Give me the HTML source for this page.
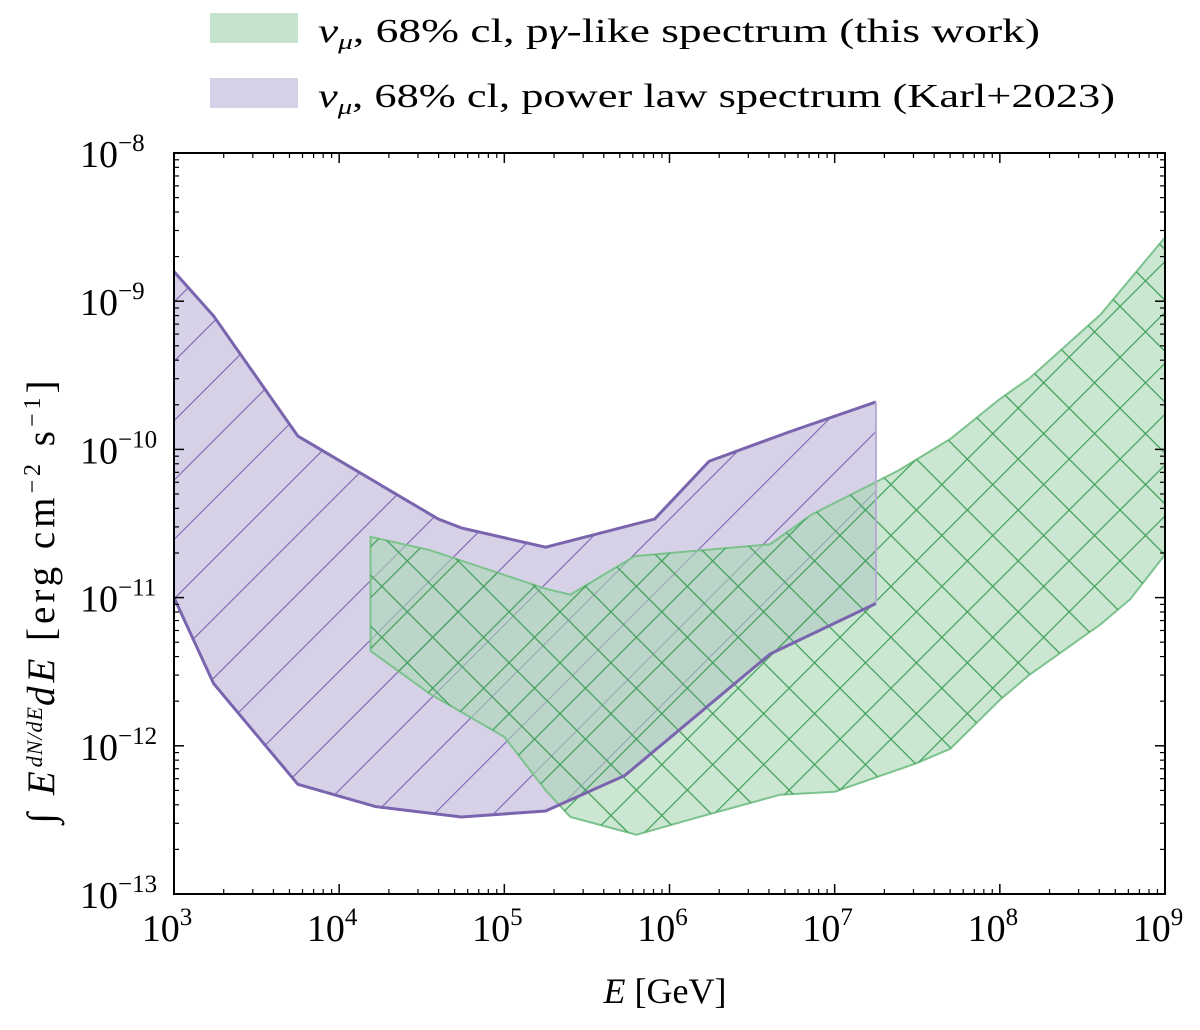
<!DOCTYPE html>
<html><head><meta charset="utf-8"><style>
body{margin:0;background:#fff}
svg text{font-family:"Liberation Serif",serif;fill:#000}
</style></head><body>
<svg id="chart" width="1200" height="1025" viewBox="0 0 1200 1025" xmlns="http://www.w3.org/2000/svg">
<defs>
<clipPath id="plotclip"><rect x="174" y="153" width="991" height="741"/></clipPath>
<pattern id="hatchP" patternUnits="userSpaceOnUse" width="42" height="42" patternTransform="rotate(45 0 0)">
<line x1="0" y1="0" x2="0" y2="42" stroke="#7a64ae" stroke-width="2.2"/>
</pattern>
<pattern id="hatchG" patternUnits="userSpaceOnUse" width="36" height="36" patternTransform="rotate(45 0 0)">
<line x1="0" y1="0" x2="0" y2="36" stroke="#3f9f5a" stroke-width="2.4"/>
<line x1="0" y1="0" x2="36" y2="0" stroke="#3f9f5a" stroke-width="2.4"/>
</pattern>
</defs>
<g id="plot" clip-path="url(#plotclip)"></g>
<g id="axes"></g>
<g>
<rect x="210" y="13" width="88" height="30" fill="#c5e3cc"/>
<text x="318" y="42" font-size="34" textLength="722" lengthAdjust="spacingAndGlyphs"><tspan font-style="italic">ν</tspan><tspan font-style="italic" font-size="22" dy="7">μ</tspan><tspan dy="-7">, 68% cl, p</tspan><tspan font-style="italic">γ</tspan>-like spectrum (this work)</text>
<rect x="210" y="78" width="88" height="30" fill="#d7d1e8"/>
<text x="318" y="107" font-size="34" textLength="797" lengthAdjust="spacingAndGlyphs"><tspan font-style="italic">ν</tspan><tspan font-style="italic" font-size="22" dy="7">μ</tspan><tspan dy="-7">, 68% cl, power law spectrum (Karl+2023)</tspan></text>
</g>
<text x="665" y="1003" font-size="36" text-anchor="middle"><tspan font-style="italic">E</tspan> [GeV]</text>
<text transform="translate(54 600) rotate(-90)" font-size="39" text-anchor="middle" letter-spacing="4">∫ <tspan font-style="italic">E</tspan><tspan font-style="italic" font-size="22" dy="-12" letter-spacing="1">dN/dE</tspan><tspan font-style="italic" dy="12">dE</tspan> [erg cm<tspan font-size="24" dy="-14">−2</tspan><tspan dy="14"> s</tspan><tspan font-size="24" dy="-14">−1</tspan><tspan dy="14">]</tspan></text>
</svg>
<script>
const purpleUpperE=[3.0,3.24,3.75,4.60,4.74,5.25,5.91,6.24,6.73,7.25];
const purpleUpperF=[-8.80,-9.10,-9.91,-10.47,-10.53,-10.66,-10.47,-10.08,-9.88,-9.68];
const purpleLowerE=[7.25,6.61,5.73,5.25,4.74,4.22,3.75,3.24,3.0];
const purpleLowerF=[-11.04,-11.38,-12.20,-12.44,-12.48,-12.41,-12.26,-11.58,-11.0];
const greenUpperE=[4.19,4.55,5.25,5.40,5.79,6.61,6.86,7.25,7.39,7.70,8.0,8.18,8.61,9.0];
const greenUpperF=[-10.59,-10.68,-10.94,-10.98,-10.72,-10.64,-10.44,-10.22,-10.14,-9.93,-9.66,-9.52,-9.09,-8.57];
const greenLowerE=[9.0,8.79,8.61,8.18,8.0,7.70,7.49,7.0,6.67,6.18,5.80,5.40,5.25,5.0,4.55,4.19];
const greenLowerF=[-10.71,-11.01,-11.18,-11.52,-11.69,-12.02,-12.12,-12.31,-12.33,-12.48,-12.60,-12.48,-12.30,-11.94,-11.65,-11.36];
const xTicks=[3,4,5,6,7,8,9];
const yTicks=[-13,-12,-11,-10,-9,-8];

const X0=174,X1=1165,Y0=894,Y1=153;
const xs=v=>X0+(v-3)/6*(X1-X0);
const ys=v=>Y0-(v+13)/5*(Y0-Y1);
const NS="http://www.w3.org/2000/svg";
const plot=document.getElementById('plot'),axes=document.getElementById('axes');
function mk(tag,attrs,parent){const e=document.createElementNS(NS,tag);for(const k in attrs)e.setAttribute(k,attrs[k]);parent.appendChild(e);return e;}
function pts(E1,F1,E2,F2){const p=[];E1.forEach((e,i)=>p.push(xs(e)+','+ys(F1[i])));E2.forEach((e,i)=>p.push(xs(e)+','+ys(F2[i])));return p.join(' ');}

const pp=pts(purpleUpperE,purpleUpperF,purpleLowerE,purpleLowerF);
let e=mk('polygon',{points:pp,fill:'#d7d1e8',stroke:'none'},plot);


e=mk('polygon',{points:pp,fill:'url(#hatchP)',stroke:'none'},plot);


const gp=pts(greenUpperE,greenUpperF,greenLowerE,greenLowerF);
e=mk('polygon',{points:gp,fill:'#a8d7b2','fill-opacity':0.6,stroke:'#7cc28d','stroke-width':2},plot);


e=mk('polygon',{points:gp,fill:'url(#hatchG)',stroke:'none'},plot);


e=mk('polyline',{points:purpleUpperE.map((v,i)=>xs(v)+','+ys(purpleUpperF[i])).join(' '),fill:'none',stroke:'#7a64ae','stroke-width':3},plot);


e=mk('polyline',{points:purpleLowerE.map((v,i)=>xs(v)+','+ys(purpleLowerF[i])).join(' '),fill:'none',stroke:'#7a64ae','stroke-width':3},plot);


e=mk('line',{x1:xs(purpleUpperE[purpleUpperE.length-1]),y1:ys(purpleUpperF[purpleUpperF.length-1]),x2:xs(purpleLowerE[0]),y2:ys(purpleLowerF[0]),stroke:'#b8acd6','stroke-width':2},plot);



e=mk('rect',{x:X0,y:Y1,width:X1-X0,height:Y0-Y1,fill:'none',stroke:'#000','stroke-width':2},axes);


xTicks.forEach(t=>{
  const x=xs(t);
  mk('line',{x1:x,y1:Y0,x2:x,y2:Y0-10,stroke:'#000','stroke-width':1.5},axes);
  mk('line',{x1:x,y1:Y1,x2:x,y2:Y1+10,stroke:'#000','stroke-width':1.5},axes);
  if(t<9)for(let m=2;m<10;m++){const xm=xs(t+Math.log10(m));mk('line',{x1:xm,y1:Y0,x2:xm,y2:Y0-5,stroke:'#000','stroke-width':1.2},axes);mk('line',{x1:xm,y1:Y1,x2:xm,y2:Y1+5,stroke:'#000','stroke-width':1.2},axes);}
  const tx=mk('text',{x:x-7,y:Y0+47,'font-size':38,'text-anchor':'middle'},axes);
  
  
  tx.innerHTML='10<tspan font-size="25" dy="-16">'+t+'</tspan>';
});
yTicks.forEach(t=>{
  const y=ys(t);
  mk('line',{x1:X0,y1:y,x2:X0+10,y2:y,stroke:'#000','stroke-width':1.5},axes);
  mk('line',{x1:X1,y1:y,x2:X1-10,y2:y,stroke:'#000','stroke-width':1.5},axes);
  if(t<-8)for(let m=2;m<10;m++){const ym=ys(t+Math.log10(m));mk('line',{x1:X0,y1:ym,x2:X0+5,y2:ym,stroke:'#000','stroke-width':1.2},axes);mk('line',{x1:X1,y1:ym,x2:X1-5,y2:ym,stroke:'#000','stroke-width':1.2},axes);}
  const tx=mk('text',{x:80,y:y+14,'font-size':38},axes);
  
  
  tx.innerHTML='10<tspan font-size="25" dy="-16">−'+(-t)+'</tspan>';
});
</script>
</body></html>
